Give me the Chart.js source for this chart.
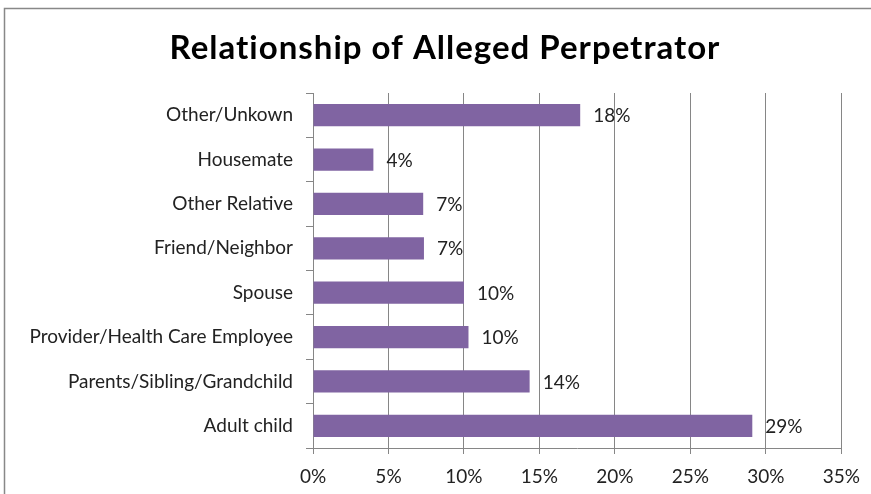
<!DOCTYPE html>
<html>
<head>
<meta charset="utf-8">
<script src="https://cdn.jsdelivr.net/npm/chart.js@4.4.0/dist/chart.umd.min.js"></script>
<style>
  html, body { margin: 0; padding: 0; background: #fff; }
  #wrap { width: 871px; height: 494px; position: relative; }
</style>
</head>
<body>
<div id="wrap"><canvas id="chart" width="871" height="494"></canvas></div>
<script>
// categories top to bottom
const categories = [
    'Other/Unkown',
    'Housemate',
    'Other Relative',
    'Friend/Neighbor',
    'Spouse',
    'Provider/Health Care Employee',
    'Parents/Sibling/Grandchild',
    'Adult child'
];
// percent values
const values = [17.7, 4.0, 7.3, 7.35, 10.0, 10.3, 14.35, 29.1];
const xTicks = [0, 5, 10, 15, 20, 25, 30, 35];
const titleText = 'Relationship of Alleged Perpetrator';

const FONT = 'Lato, "Open Sans", sans-serif';
const GRID = '#868686';

// frame round the chart and the title
const framePlugin = {
    id: 'frame',
    beforeDraw(chart) {
        const ctx = chart.ctx;
        ctx.save();
        ctx.fillStyle = '#fff';
        ctx.fillRect(0, 0, chart.width, chart.height);
        ctx.strokeStyle = '#888';
        ctx.lineWidth = 1.5;
        ctx.beginPath();
        ctx.moveTo(4.5, chart.height + 2);
        ctx.lineTo(4.5, 8.5);
        ctx.lineTo(chart.width + 2, 8.5);
        ctx.stroke();

        // title sits a bit right of the canvas centre, like the original
        ctx.fillStyle = '#000';
        ctx.font = 'bold 33px ' + FONT;
        ctx.letterSpacing = '1px';
        ctx.textAlign = 'center';
        ctx.textBaseline = 'alphabetic';
        ctx.fillText(titleText, 445, 59);
        ctx.restore();
    }
};

// value labels at bar ends
const valueLabels = {
    id: 'valueLabels',
    afterDatasetsDraw(chart) {
        const ctx = chart.ctx;
        const meta = chart.getDatasetMeta(0);
        ctx.save();
        ctx.font = '19px ' + FONT;
        ctx.fillStyle = '#222';
        ctx.textAlign = 'left';
        ctx.textBaseline = 'middle';
        meta.data.forEach((bar, i) => {
            ctx.fillText(Math.round(values[i]) + '%', bar.x + 13, bar.y + 1);
        });
        ctx.restore();
    }
};

new Chart(document.getElementById('chart'), {
    type: 'bar',
    data: {
        labels: categories,
        datasets: [{
            data: values,
            backgroundColor: '#8064A2',
            borderWidth: 0,
            barPercentage: 0.5,
            categoryPercentage: 1
        }]
    },
    options: {
        indexAxis: 'y',
        responsive: false,
        animation: false,
        layout: { padding: { top: 93, left: 4, right: 29, bottom: 0 } },
        plugins: {
            legend: { display: false },
            tooltip: { enabled: false },
            title: { display: false }
        },
        scales: {
            x: {
                min: 0,
                max: 35,
                afterBuildTicks(scale) {
                    scale.ticks = xTicks.map(v => ({ value: v }));
                },
                afterFit(scale) { scale.height = 46; },
                grid: { color: GRID, lineWidth: 1, tickLength: 6 },
                border: { color: GRID, width: 1 },
                ticks: {
                    color: '#222',
                    font: { family: FONT, size: 19 },
                    padding: 11,
                    maxRotation: 0,
                    callback: v => v + '%'
                }
            },
            y: {
                afterFit(scale) { scale.width = 309; },
                grid: {
                    offset: true,
                    drawOnChartArea: false,
                    color: GRID,
                    tickLength: 7
                },
                border: { color: GRID, width: 1 },
                ticks: {
                    color: '#222',
                    font: { family: FONT, size: 19 },
                    padding: 13
                }
            }
        }
    },
    plugins: [framePlugin, valueLabels]
});
</script>
</body>
</html>
